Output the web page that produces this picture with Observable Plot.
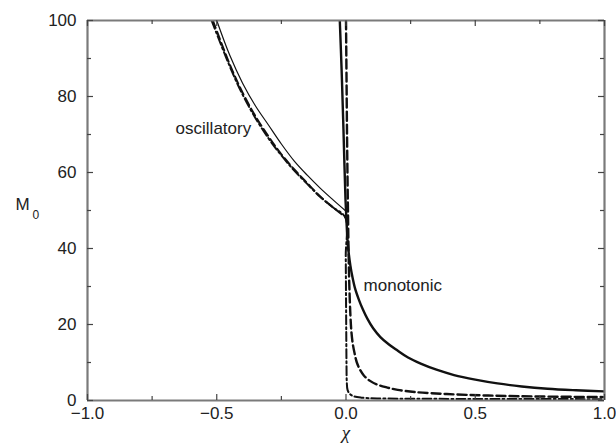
<!DOCTYPE html>
<html><head><meta charset="utf-8">
<script src="https://cdn.jsdelivr.net/npm/d3@7"></script>
<script src="https://cdn.jsdelivr.net/npm/@observablehq/plot@0.6"></script>
<style>html,body{margin:0;padding:0;background:#fff;overflow:hidden}#chart{width:616px;height:445px;overflow:hidden}#chart svg{display:block}</style>
</head><body><div id="chart"></div>
<script>
// ---- tick data ----
const xMajor = [-1, -0.5, 0, 0.5, 1];
const xMinor = [-0.75, -0.25, 0.25, 0.75];
const xTickLabels = ["\u22121.0", "\u22120.5", "0.0", "0.5", "1.0"];
const yMajor = [0, 20, 40, 60, 80, 100];
const yMinor = [10, 30, 50, 70, 90];
const yTickLabels = ["0", "20", "40", "60", "80", "100"];
const xDomain = [-1, 1];
const yDomain = [0, 100];

// ---- series (chi, M0) ----
const oscSolid = [[-0.5,100],[-0.45,90.9],[-0.4,83.5],[-0.35,77.5],[-0.3,72.5],[-0.25,67.5],[-0.2,63],[-0.15,59.3],[-0.1,55.9],[-0.05,52.8],[-0.003,50]];
const oscDashed = [[-0.515,100],[-0.45,88.5],[-0.4,81],[-0.35,74.8],[-0.3,69.5],[-0.25,64.8],[-0.2,60.8],[-0.15,57.2],[-0.1,53.7],[-0.05,50.8],[-0.003,48.3]];
const solidThick = [[-0.024,100],[-0.017,87],[-0.011,74],[-0.006,62],[-0.002,53],[0.002,47],[0.006,42],[0.011,38.5],[0.017,35.5],[0.024,32.8],[0.035,29.5],[0.05,26.5],[0.065,24],[0.082,21.6],[0.105,19],[0.133,16.7],[0.165,14.8],[0.198,13.2],[0.24,11.3],[0.289,9.7],[0.35,8.1],[0.418,6.7],[0.5,5.5],[0.586,4.5],[0.68,3.7],[0.78,3.1],[0.89,2.7],[1.0,2.4]];
const dashedMono = [[0.0,100],[0.002,85],[0.004,70],[0.006,58],[0.008,48],[0.010,39],[0.013,30],[0.017,22.5],[0.021,18],[0.026,15],[0.033,12.5],[0.042,10],[0.055,8],[0.069,6.6],[0.09,5.3],[0.12,4.2],[0.16,3.4],[0.2,2.8],[0.27,2.2],[0.39,1.7],[0.55,1.3],[0.75,1.05],[1.0,0.9]];
const dashDot = [[-0.52,100],[-0.45,88],[-0.4,80.5],[-0.35,74.3],[-0.3,69],[-0.25,64.5],[-0.2,60.5],[-0.15,57],[-0.1,53.6],[-0.05,50.8],[-0.003,48.2],[-0.001,38],[0.0,28],[0.001,18],[0.002,9],[0.003,5],[0.006,2.8],[0.015,1.7],[0.03,1.1],[0.06,0.75],[0.12,0.55],[0.3,0.45],[0.6,0.4],[1.0,0.35]];

const labelOsc = {text: "oscillatory", chi: -0.513, m: 71.6};
const labelMono = {text: "monotonic", chi: 0.068, m: 30.3};

const W = 616, H = 445, mL = 87, mR = 12, mT = 20, mB = 45;
const pw = W - mL - mR, ph = H - mT - mB;
const rows = pts => pts.map(([chi, m]) => ({chi, m}));
const ink = "#111";
const frameColor = "#7a7a7a";
const tickColor = "#444";

const line = (pts, opts) => Plot.line(rows(pts), {x: "chi", y: "m", stroke: ink, curve: "catmull-rom", clip: true, ...opts});

const chart = Plot.plot({
  width: W, height: H,
  marginLeft: mL, marginRight: mR, marginTop: mT, marginBottom: mB,
  x: {domain: xDomain},
  y: {domain: yDomain},
  style: {fontFamily: "'Liberation Sans', Arial, sans-serif", fontSize: "17px", color: "#222", background: "#fff", maxWidth: "none"},
  marks: [
    // curves
    line(oscSolid, {strokeWidth: 1.2}),
    line(oscDashed, {strokeWidth: 2, strokeDasharray: "8,4"}),
    line(dashDot, {strokeWidth: 2, strokeDasharray: "9,3,2,3"}),
    line(dashedMono, {strokeWidth: 2.4, strokeDasharray: "9,4"}),
    line(solidThick, {strokeWidth: 2.4}),
    // frame: four sides
    Plot.ruleX(xDomain, {x: d => d, y1: yDomain[0], y2: yDomain[1], stroke: frameColor, strokeWidth: 2.2}),
    Plot.ruleY(yDomain, {y: d => d, x1: xDomain[0], x2: xDomain[1], stroke: frameColor, strokeWidth: 2.2}),
    // inward ticks: left / right
    Plot.tickY(yMajor, {y: d => d, insetRight: pw - 6, stroke: tickColor, strokeWidth: 1.2}),
    Plot.tickY(yMinor, {y: d => d, insetRight: pw - 4, stroke: tickColor, strokeWidth: 1.2}),
    Plot.tickY(yMajor, {y: d => d, insetLeft: pw - 6, stroke: tickColor, strokeWidth: 1.2}),
    Plot.tickY(yMinor, {y: d => d, insetLeft: pw - 4, stroke: tickColor, strokeWidth: 1.2}),
    // inward ticks: bottom / top
    Plot.tickX(xMajor, {x: d => d, insetTop: ph - 6, stroke: tickColor, strokeWidth: 1.2}),
    Plot.tickX(xMinor, {x: d => d, insetTop: ph - 4, stroke: tickColor, strokeWidth: 1.2}),
    Plot.tickX(xMajor, {x: d => d, insetBottom: ph - 6, stroke: tickColor, strokeWidth: 1.2}),
    Plot.tickX(xMinor, {x: d => d, insetBottom: ph - 4, stroke: tickColor, strokeWidth: 1.2}),
    // tick labels
    Plot.axisX(xMajor, {tickSize: 0, tickPadding: 6, tickFormat: d => xTickLabels[xMajor.indexOf(d)], label: null, fontSize: 17}),
    Plot.axisY(yMajor, {tickSize: 0, tickPadding: 11, tickFormat: d => yTickLabels[yMajor.indexOf(d)], label: null, fontSize: 17}),
    // axis titles
    Plot.text(["\u03c7"], {frameAnchor: "bottom", dy: 38, fontSize: 19, fontStyle: "italic", fontFamily: "'Liberation Serif', 'DejaVu Serif', serif", fill: "#222"}),
    Plot.text(["M"], {frameAnchor: "left", dx: -72, dy: -6, textAnchor: "start", fontSize: 17, fill: "#222"}),
    Plot.text(["0"], {frameAnchor: "left", dx: -55, dy: 5, textAnchor: "start", fontSize: 12, fill: "#222"}),
    // curve labels
    Plot.text([labelOsc], {x: "chi", y: "m", text: "text", textAnchor: "middle", fontSize: 17, fill: "#222"}),
    Plot.text([labelMono], {x: "chi", y: "m", text: "text", textAnchor: "start", fontSize: 17, fill: "#222"})
  ]
});
document.getElementById("chart").appendChild(chart);
</script>
</body></html>
